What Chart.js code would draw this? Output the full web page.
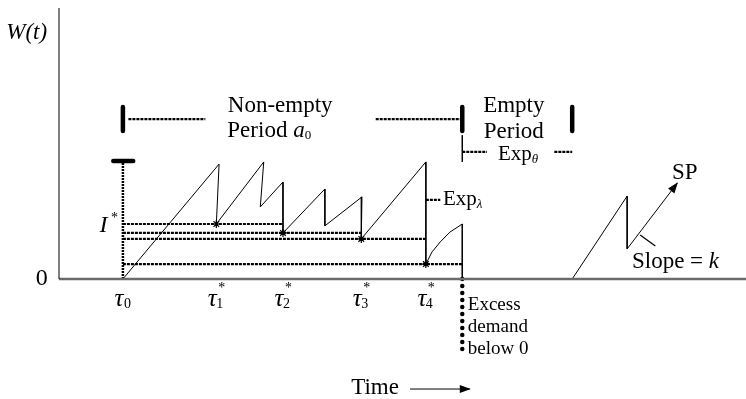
<!DOCTYPE html>
<html>
<head>
<meta charset="utf-8">
<script src="https://cdn.jsdelivr.net/npm/chart.js@4.4.0/dist/chart.umd.min.js"></script>
<style>
  html, body { margin: 0; padding: 0; background: #fff; }
  canvas { display: block; }
</style>
</head>
<body>
<canvas id="workload" width="746" height="399"></canvas>
<script>
// workload path W(t) during the non-empty period (time units, workload units)
const pathTimes  = [9.3, 23.3, 22.9, 29.8, 29.3, 32.6, 32.6, 38.7, 38.7, 44.1, 44.0, 53.4, 53.4, 54.3, 55.5, 56.9, 58.7, 58.7];
const pathLevels = [0, 42.4, 20.3, 43.2, 26.6, 35.8, 17.0, 33.2, 19.6, 30.3, 14.8, 43.2, 5.5, 10.0, 13.7, 17.3, 20.3, 0];

// next busy period after the empty one, heading to SP
const restartTimes  = [74.7, 82.7, 82.7, 90.0];
const restartLevels = [0, 30.6, 11.1, 35.4];

// reset epochs tau*_i and the workload level at each
const resetTimes  = [22.9, 32.6, 44.0, 53.4];
const resetLevels = [20.3, 17.0, 14.8, 5.5];
const tickSubs    = ['0', '1', '2', '3', '4'];

const startTime = 9.3;    // tau_0
const crossTime = 58.7;   // demand pushes W below 0
const emptyEnd  = 74.7;   // empty period is over
const capLevel  = 43.5;   // upper bound marker on tau_0
const belowZero = -26.9;  // depth of the excess-demand marker

const serif = '"Liberation Serif", "Times New Roman", serif';
const font = (size, style = '') => `${style} ${size}px ${serif}`;

const pt = (x, y) => ({ x, y });
function seg(points, opts = {}) {
  return Object.assign({
    data: points,
    showLine: true,
    pointRadius: 0,
    borderColor: '#000',
    borderWidth: 1,
    tension: 0
  }, opts);
}
const dashed = { borderWidth: 2.2, borderDash: [3, 1], borderColor: '#000' };
const thickBar = { borderWidth: 4.5, borderCapStyle: 'round' };

const datasets = [];

// axes
datasets.push(seg([pt(0, 0), pt(0, 100)]));
datasets.push(seg([pt(0, 0), pt(100, 0)], { borderColor: '#6b6b6b', borderWidth: 2.5 }));

// level lines from tau_0 to the next reset (last one to the crossing)
resetLevels.forEach((lvl, i) => {
  const end = i + 1 < resetTimes.length ? resetTimes[i + 1] : crossTime;
  datasets.push(seg([pt(startTime, lvl), pt(end, lvl)], dashed));
});

// tau_0 marker with its cap
datasets.push(seg([pt(startTime, 0), pt(startTime, capLevel)], { borderWidth: 2.5, borderDash: [2, 1], borderColor: '#000' }));
datasets.push(seg([pt(startTime - 1.4, capLevel), pt(startTime + 1.5, capLevel)], thickBar));

// sample paths
datasets.push(seg(pathTimes.map((t, i) => pt(t, pathLevels[i]))));
datasets.push(seg(restartTimes.map((t, i) => pt(restartTimes[i], restartLevels[i])), { arrow: true }));

// reset points
datasets.push({
  data: resetTimes.map((t, i) => pt(t, resetLevels[i])),
  showLine: false,
  pointStyle: 'star',
  pointRadius: 4,
  borderColor: '#000',
  borderWidth: 1.2
});

// period brackets
[startTime, crossTime, emptyEnd].forEach(t => {
  datasets.push(seg([pt(t, 54.6), pt(t, 63.5)], thickBar));
});
datasets.push(seg([pt(startTime + 0.8, 59.0), pt(21.3, 59.0)], dashed));
datasets.push(seg([pt(46.1, 59.0), pt(crossTime, 59.0)], dashed));

// Exp_theta span
datasets.push(seg([pt(crossTime, 43.2), pt(crossTime, 53.1)], { borderWidth: 1.5 }));
datasets.push(seg([pt(crossTime, 46.9), pt(62.3, 46.9)], dashed));
datasets.push(seg([pt(72.1, 46.9), pt(emptyEnd, 46.9)], dashed));

// Exp_lambda pointer
datasets.push(seg([pt(resetTimes[3], 29.2), pt(55.5, 29.2)], dashed));

// excess demand below 0
datasets.push(seg([pt(crossTime, 0), pt(crossTime, belowZero)], { borderWidth: 4.5, borderDash: [0, 7], borderCapStyle: 'round' }));

// slope pointer
datasets.push(seg([pt(84.6, 16.2), pt(86.8, 12.2)], { borderWidth: 1.3 }));

// time arrow
datasets.push(seg([pt(51.1, -40.6), pt(59.8, -40.6)], { arrow: true }));

// text, positioned in data units
const labels = [
  { t: -4.7, w: 90.8, align: 'center', parts: [{ text: 'W(t)', font: font(23, 'italic') }] },
  { t: -2.5, w: 0, align: 'center', parts: [{ text: '0', font: font(24) }] },
  { t: 8.6, w: 19.6, align: 'right', parts: [{ text: 'I', font: font(24, 'italic') }, { text: ' *', font: font(14), dy: -8 }] },
  { t: 32.2, w: 63.8, align: 'center', parts: [{ text: 'Non-empty', font: font(23) }] },
  { t: 30.6, w: 54.6, align: 'center', parts: [{ text: 'Period ', font: font(23) }, { text: 'a', font: font(23, 'italic') }, { text: '0', font: font(13), dy: 5 }] },
  { t: 66.2, w: 63.8, align: 'center', parts: [{ text: 'Empty', font: font(23) }] },
  { t: 66.2, w: 54.2, align: 'center', parts: [{ text: 'Period', font: font(23) }] },
  { t: 63.9, w: 46.1, align: 'left', parts: [{ text: 'Exp', font: font(21) }, { text: 'θ', font: font(13, 'italic'), dy: 6 }] },
  { t: 55.9, w: 29.2, align: 'left', parts: [{ text: 'Exp', font: font(21) }, { text: 'λ', font: font(13, 'italic'), dy: 5 }] },
  { t: 91.1, w: 39.1, align: 'center', parts: [{ text: 'SP', font: font(23) }] },
  { t: 83.4, w: 6.3, align: 'left', parts: [{ text: 'Slope = ', font: font(23) }, { text: 'k', font: font(23, 'italic') }] },
  { t: 59.5, w: -9.6, align: 'left', parts: [{ text: 'Excess', font: font(19) }] },
  { t: 59.5, w: -17.7, align: 'left', parts: [{ text: 'demand', font: font(19) }] },
  { t: 59.5, w: -25.8, align: 'left', parts: [{ text: 'below 0', font: font(19) }] },
  { t: 46.0, w: -40.2, align: 'center', parts: [{ text: 'Time', font: font(23) }] }
];

function drawParts(ctx, parts, x, y, align) {
  let total = 0;
  parts.forEach(p => { ctx.font = p.font; p.width = ctx.measureText(p.text).width; total += p.width; });
  let cx = align === 'center' ? x - total / 2 : align === 'right' ? x - total : x;
  parts.forEach(p => {
    ctx.font = p.font;
    ctx.fillText(p.text, cx, y + (p.dy || 0));
    cx += p.width;
  });
}

const annotations = {
  id: 'annotations',
  afterDatasetsDraw(chart) {
    const ctx = chart.ctx;
    const xs = chart.scales.x, ys = chart.scales.y;
    ctx.save();
    ctx.fillStyle = '#000';
    ctx.textBaseline = 'middle';

    // arrow heads at the end of flagged lines
    chart.data.datasets.forEach((ds, i) => {
      if (!ds.arrow) return;
      const els = chart.getDatasetMeta(i).data;
      const a = els[els.length - 2], b = els[els.length - 1];
      ctx.save();
      ctx.translate(b.x, b.y);
      ctx.rotate(Math.atan2(b.y - a.y, b.x - a.x));
      ctx.beginPath();
      ctx.moveTo(1, 0);
      ctx.lineTo(-10, -4);
      ctx.lineTo(-10, 4);
      ctx.closePath();
      ctx.fill();
      ctx.restore();
    });

    labels.forEach(l => {
      drawParts(ctx, l.parts, xs.getPixelForValue(l.t), ys.getPixelForValue(l.w), l.align);
    });

    // tau tick labels under the time axis
    const tickY = ys.getPixelForValue(-7.4);
    [startTime, ...resetTimes].forEach((t, i) => {
      const x = xs.getPixelForValue(t);
      ctx.font = font(25, 'italic');
      ctx.textAlign = 'center';
      ctx.fillText('τ', x - 4, tickY);
      ctx.textAlign = 'left';
      ctx.font = font(14);
      ctx.fillText(tickSubs[i], x + (i ? 0 : 1), tickY + 5);
      if (i) ctx.fillText('*', x + 2, tickY - 11);
    });
    ctx.restore();
  }
};

new Chart(document.getElementById('workload'), {
  type: 'scatter',
  data: { datasets },
  options: {
    responsive: false,
    animation: false,
    layout: { padding: 0, autoPadding: false },
    plugins: { legend: { display: false }, tooltip: { enabled: false } },
    scales: {
      x: { type: 'linear', display: false, min: -8.59, max: 100 },
      y: { type: 'linear', display: false, min: -44.28, max: 102.95 }
    }
  },
  plugins: [annotations]
});
</script>
</body>
</html>
